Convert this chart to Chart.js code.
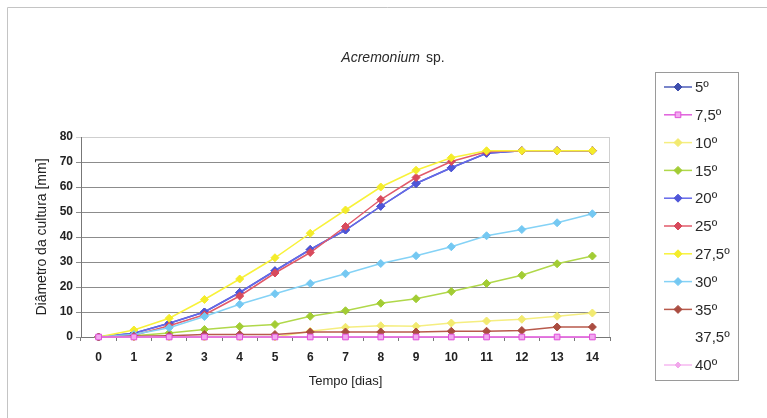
<!DOCTYPE html>
<html>
<head>
<meta charset="utf-8">
<script src="https://cdn.jsdelivr.net/npm/chart.js@4"></script>
<style>
    html, body { margin: 0; padding: 0; background: #fff; }
    #wrap { width: 767px; height: 418px; }
</style>
</head>
<body>
<div id="wrap"><canvas id="growthChart" width="767" height="418"></canvas></div>
<script>
var dias = ["0", "1", "2", "3", "4", "5", "6", "7", "8", "9", "10", "11", "12", "13", "14"];
var yTicks = [0, 10, 20, 30, 40, 50, 60, 70, 80];

var t5   = [0, 1.5, 5.5, 10, 17.8, 26.5, 35, 42.8, 52.3, 61.4, 67.7, 73.5, 74.5, 74.5, 74.5];
var t75  = [0, 0, 0, 0, 0, 0, 0, 0, 0, 0, 0, 0, 0, 0, 0];
var t10  = [0, 0, 0, 0, 0, 0, 2.3, 3.9, 4.5, 4.3, 5.6, 6.4, 7.1, 8.3, 9.6];
var t15  = [0, 0.5, 1.6, 3, 4.2, 5, 8.3, 10.5, 13.5, 15.3, 18.2, 21.4, 24.7, 29.3, 32.4];
var t20  = [0, 1.5, 5.5, 10, 17.8, 26.5, 35, 42.8, 52.3, 61.4, 67.7, 73.5, 74.5, 74.5, 74.5];
var t25  = [0, 0.7, 4.5, 8.9, 16.4, 25.6, 33.8, 44.2, 55, 63.8, 70.2, 74.1, 74.5, 74.5, 74.5];
var t275 = [0, 2.8, 7.5, 15, 23.2, 31.7, 41.5, 50.8, 60, 66.7, 71.7, 74.5, 74.5, 74.5, 74.5];
var t30  = [0, 1, 3.7, 8.2, 13.1, 17.3, 21.4, 25.3, 29.4, 32.5, 36.1, 40.5, 43, 45.7, 49.3];
var t35  = [0, 0.3, 0.5, 1, 1, 1, 2, 2, 2, 2, 2.3, 2.3, 2.6, 4, 4];
var t375 = [null, null, null, null, null, null, null, null, null, null, null, null, null, null, null];
var t40  = [0, 0, 0, 0, 0, 0, 0, 0, 0, 0, 0, 0, 0, 0, 0];

function serie(label, data, line, mark, style, radius, fill) {
    return {
        label: label,
        data: data,
        borderColor: line,
        backgroundColor: fill || mark,
        pointBorderColor: mark,
        pointBackgroundColor: fill || mark,
        pointStyle: style,
        pointRadius: radius,
        pointBorderWidth: 1,
        borderWidth: 1.5,
        tension: 0,
        clip: false
    };
}

var series = [
    serie("5º", t5, "#4c5cb8", "#3f4fae", "rectRot", 4),
    serie("7,5º", t75, "#e060dc", "#e050d8", "rect", 4, "#f2a8f0"),
    serie("10º", t10, "#f5ee80", "#f2ea70", "rectRot", 4),
    serie("15º", t15, "#b0d84a", "#a2cc34", "rectRot", 4),
    serie("20º", t20, "#6468ea", "#4f56d8", "rectRot", 4),
    serie("25º", t25, "#e25a6a", "#d84a5c", "rectRot", 4),
    serie("27,5º", t275, "#f8f23a", "#f4ec2a", "rectRot", 4),
    serie("30º", t30, "#84d2f6", "#74c8f2", "rectRot", 4),
    serie("35º", t35, "#b85a4c", "#aa4c40", "rectRot", 4),
    serie("37,5º", t375, "rgba(0,0,0,0)", "rgba(0,0,0,0)", "rectRot", 0),
    serie("40º", t40, "#f6b8f0", "#f2a8ec", "rectRot", 3)
];
// excel draws the later series on top
series.forEach(function (s, i) { s.order = series.length - i; });
series[9].borderWidth = 0;
// the 7,5 squares stay visible over the pink 40 line
series[1].order = 0;

var decor = {
    id: "decor",
    afterDraw: function (chart) {
        var ctx = chart.ctx;
        var area = chart.chartArea;
        ctx.save();

        // outer frame of the scanned chart
        ctx.strokeStyle = "#c4c4c4";
        ctx.lineWidth = 1;
        ctx.beginPath();
        ctx.moveTo(7.5, 418);
        ctx.lineTo(7.5, 7.5);
        ctx.lineTo(767, 7.5);
        ctx.stroke();

        // right edge of the plot
        ctx.strokeStyle = "#cfcfcf";
        ctx.beginPath();
        ctx.moveTo(area.right - 0.5, area.top);
        ctx.lineTo(area.right - 0.5, area.bottom);
        ctx.stroke();

        // title, italic genus + normal "sp."
        ctx.fillStyle = "#2a2a2a";
        ctx.textBaseline = "middle";
        ctx.textAlign = "left";
        ctx.font = "italic 14px 'Liberation Sans', Arial, sans-serif";
        var w1 = ctx.measureText("Acremonium").width;
        ctx.font = "14px 'Liberation Sans', Arial, sans-serif";
        var w2 = ctx.measureText("sp.").width;
        var x0 = 393 - (w1 + 6 + w2) / 2;
        ctx.font = "italic 14px 'Liberation Sans', Arial, sans-serif";
        ctx.fillText("Acremonium", x0, 58);
        ctx.font = "14px 'Liberation Sans', Arial, sans-serif";
        ctx.fillText("sp.", x0 + w1 + 6, 58);

        // legend box
        ctx.strokeStyle = "#9a9a9a";
        ctx.strokeRect(655.5, 72.5, 83, 308);
        ctx.font = "15px 'Liberation Sans', Arial, sans-serif";
        chart.data.datasets.forEach(function (ds, i) {
            var y = 87 + i * 27.8;
            if (ds.borderWidth > 0) {
                ctx.strokeStyle = ds.borderColor;
                ctx.lineWidth = 1.5;
                ctx.beginPath();
                ctx.moveTo(664, y);
                ctx.lineTo(692, y);
                ctx.stroke();
            }
            if (ds.pointRadius > 0) {
                ctx.fillStyle = ds.pointBackgroundColor;
                ctx.strokeStyle = ds.pointBorderColor;
                ctx.lineWidth = 1;
                Chart.helpers.drawPoint(ctx, { pointStyle: ds.pointStyle, radius: ds.pointRadius, rotation: 0, borderWidth: 1 }, 678, y);
            }
            ctx.fillStyle = "#2a2a2a";
            ctx.fillText(ds.label, 695, y + 1);
        });
        ctx.restore();
    }
};

var growthCanvas = document.getElementById("growthChart").getContext("2d");
var growthChart = new Chart(growthCanvas, {
    type: "line",
    data: {
        labels: dias,
        datasets: series
    },
    options: {
        responsive: false,
        animation: false,
        layout: { padding: { left: 7, top: 137, right: 157, bottom: 0 } },
        plugins: {
            legend: { display: false },
            title: { display: false },
            tooltip: { enabled: false }
        },
        scales: {
            x: {
                offset: true,
                grid: { drawOnChartArea: false, offset: true, tickLength: 4, color: "#777" },
                border: { color: "#777" },
                ticks: {
                    padding: 9,
                    color: "#222",
                    font: { family: "'Liberation Sans', Arial, sans-serif", size: 12, weight: "bold" }
                },
                title: {
                    display: true,
                    text: "Tempo [dias]",
                    color: "#222",
                    padding: { top: 0, bottom: 29 },
                    font: { family: "'Liberation Sans', Arial, sans-serif", size: 13 }
                },
                afterFit: function (scale) { scale.height = 81; }
            },
            y: {
                min: 0,
                max: 80,
                afterBuildTicks: function (scale) {
                    scale.ticks = yTicks.map(function (v) { return { value: v }; });
                },
                grid: {
                    tickLength: 5,
                    color: function (c) { return c.tick && c.tick.value === 80 ? "#cfcfcf" : "#8c8c8c"; }
                },
                border: { color: "#777" },
                ticks: {
                    padding: 3,
                    color: "#222",
                    font: { family: "'Liberation Sans', Arial, sans-serif", size: 12, weight: "bold" }
                },
                title: {
                    display: true,
                    text: "Diâmetro da cultura [mm]",
                    color: "#222",
                    padding: { top: 27, bottom: 0 },
                    font: { family: "'Liberation Sans', Arial, sans-serif", size: 14 }
                },
                afterFit: function (scale) { scale.width = 74; }
            }
        }
    },
    plugins: [decor]
});
</script>
</body>
</html>
